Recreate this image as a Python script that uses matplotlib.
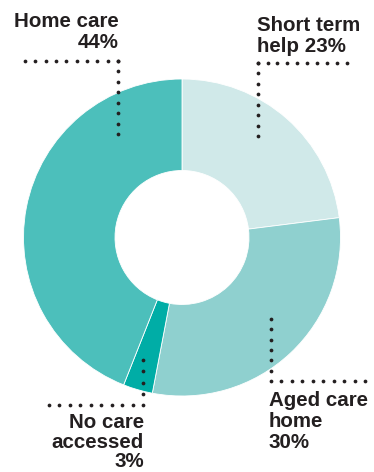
import numpy as np
import matplotlib
matplotlib.use("Agg")
import matplotlib.pyplot as plt

# ---- data ----
categories = ["Short term help", "Aged care home", "No care accessed", "Home care"]
values = [23, 30, 3, 44]
colors = ["#D0E9E9", "#8FD0CF", "#00ADA6", "#4CBFBB"]
label_lines = {
    "Home care": ["Home care", "44%"],
    "Short term help": ["Short term", "help 23%"],
    "Aged care home": ["Aged care", "home", "30%"],
    "No care accessed": ["No care", "accessed", "3%"],
}

W, H = 374, 472
fig = plt.figure(figsize=(W / 100, H / 100), dpi=100)
ax = fig.add_axes([0, 0, 1, 1])
ax.set_xlim(0, W)
ax.set_ylim(0, H)
ax.set_aspect("equal")
ax.axis("off")

def Y(y):
    return H - y

cx, cy, R, r_in = 182, 237.5, 158.5, 67
ax.pie(values, colors=colors, startangle=90, counterclock=False,
       center=(cx, Y(cy)), radius=R, frame=True,
       wedgeprops=dict(width=R - r_in, edgecolor="white", linewidth=0.6))
ax.set_xlim(0, W)
ax.set_ylim(0, H)
ax.axis("off")

dot_color = "#231F20"
def dots(x0, y0, x1, y1, step=10.3):
    L = np.hypot(x1 - x0, y1 - y0)
    n = int(round(L / step)) + 1
    xs = np.linspace(x0, x1, n)
    ys = np.linspace(Y(y0), Y(y1), n)
    ax.plot(xs, ys, linestyle="none", marker="o", ms=2.7, color=dot_color,
            markeredgewidth=0)

# Home care leader
dots(25, 60.7, 118, 60.7)
dots(118, 60.7, 118, 134)
# Short term leader
dots(257.7, 62.7, 346.7, 62.7)
dots(257.7, 62.7, 257.7, 136)
# Aged care leader
dots(270.7, 319, 270.7, 370.7)
dots(270.7, 380.7, 365, 380.7)
# No care leader
dots(143.3, 360, 143.3, 394)
dots(49, 405, 143.3, 405)

font = dict(family=["Liberation Sans", "DejaVu Sans"], fontsize=14.8,
            fontweight="bold", color=dot_color)

def label(lines, x, y_base, ha, step=20.8):
    for i, t in enumerate(lines):
        ax.text(x, Y(y_base + i * step), t, ha=ha, va="baseline", **font)

label(label_lines["Home care"], 118.5, 27.3, "right")
label(label_lines["Short term help"], 257.5, 31.2, "left")
label(label_lines["Aged care home"], 269.0, 406, "left")
label(label_lines["No care accessed"], 144, 428, "right", step=19.5)

fig.savefig("out.png", dpi=100)
